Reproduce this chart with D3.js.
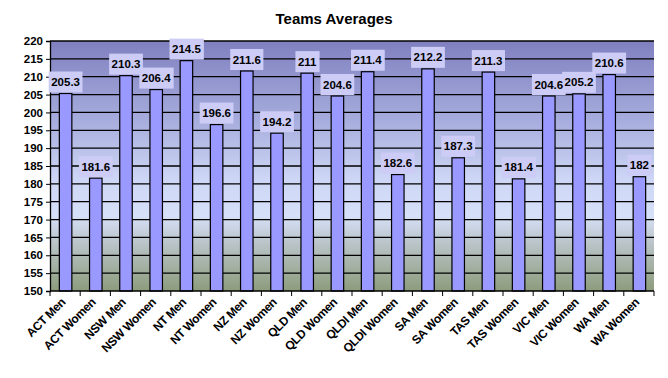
<!DOCTYPE html>
<html><head><meta charset="utf-8">
<script src="https://cdn.jsdelivr.net/npm/d3@7"></script>
<style>body{margin:0;background:#fff;}svg{display:block;font-family:"Liberation Sans",Arial,sans-serif;}</style>
</head><body><div id="chart"></div>
<script>
const categories = ["ACT Men","ACT Women","NSW Men","NSW Women","NT Men","NT Women","NZ Men","NZ Women","QLD Men","QLD Women","QLDI Men","QLDI Women","SA Men","SA Women","TAS Men","TAS Women","VIC Men","VIC Women","WA Men","WA Women"];
const values = [205.3,181.6,210.3,206.4,214.5,196.6,211.6,194.2,211,204.6,211.4,182.6,212.2,187.3,211.3,181.4,204.6,205.2,210.6,182];
const valueLabels = ["205.3","181.6","210.3","206.4","214.5","196.6","211.6","194.2","211","204.6","211.4","182.6","212.2","187.3","211.3","181.4","204.6","205.2","210.6","182"];
const yTicks = [150,155,160,165,170,175,180,185,190,195,200,205,210,215,220];
const title = "Teams Averages";

const W=668,H=378;
const m={left:50,right:14,top:41,bottom:87};
const pw=W-m.left-m.right, ph=H-m.top-m.bottom;
const svg=d3.select("#chart").append("svg").attr("width",W).attr("height",H);
const defs=svg.append("defs");
const g0=defs.append("linearGradient").attr("id","bg").attr("x1",0).attr("y1",0).attr("x2",0).attr("y2",1);
[[0,"#8080c0"],[0.3,"#a4aadb"],[0.55,"#cdd6f5"],[0.7,"#d6e0f8"],[0.8,"#bcc6cc"],[1,"#8c9c7c"]].forEach(s=>g0.append("stop").attr("offset",s[0]).attr("stop-color",s[1]));

const x=d3.scaleBand().domain(categories).range([m.left,m.left+pw]).paddingInner(0).paddingOuter(0);
const y=d3.scaleLinear().domain([150,220]).range([m.top+ph,m.top]);

svg.append("rect").attr("x",m.left).attr("y",m.top).attr("width",pw).attr("height",ph).attr("fill","url(#bg)");

svg.append("g").selectAll("line").data(yTicks.slice(1)).join("line")
  .attr("x1",m.left).attr("x2",m.left+pw).attr("y1",d=>y(d)).attr("y2",d=>y(d))
  .attr("stroke","#000").attr("stroke-width",1.3);

const bw=12.5;
svg.append("g").selectAll("rect").data(values).join("rect")
  .attr("x",(d,i)=>x(categories[i])+x.bandwidth()/2-bw/2+0.5)
  .attr("y",d=>y(d)).attr("width",bw).attr("height",d=>y(150)-y(d))
  .attr("fill","#9999ff").attr("stroke","#000").attr("stroke-width",1.2);

const ya=svg.append("g").attr("transform",`translate(${m.left},0)`)
  .call(d3.axisLeft(y).tickValues(yTicks).tickSize(4).tickPadding(3));
ya.select(".domain").attr("stroke","#000").attr("stroke-width",1.3);
ya.selectAll("text").attr("font-size",11.5).attr("font-weight","bold").attr("fill","#000").attr("font-family","Liberation Sans, Arial, sans-serif");

const xa=svg.append("g").attr("transform",`translate(0,${m.top+ph})`);
xa.append("line").attr("x1",m.left).attr("x2",m.left+pw).attr("stroke","#000").attr("stroke-width",1.3);
const bounds=categories.map(c=>x(c)).concat([m.left+pw]);
xa.selectAll("line.t").data(bounds).join("line").attr("class","t")
  .attr("x1",d=>d).attr("x2",d=>d).attr("y1",0).attr("y2",5).attr("stroke","#000");
xa.selectAll("text").data(categories).join("text")
  .attr("transform",d=>`translate(${x(d)+x.bandwidth()/2+1},${12}) rotate(-45)`)
  .attr("text-anchor","end").attr("font-size",12).attr("font-weight","bold").attr("fill","#000")
  .attr("letter-spacing","-0.4").text(d=>d);

const lg=svg.append("g");
values.forEach((v,i)=>{
  const cx=x(categories[i])+x.bandwidth()/2+0.5;
  const t=lg.append("text").attr("x",cx).attr("y",y(v)-7.5).attr("text-anchor","middle")
    .attr("font-size",11.5).attr("font-weight","bold").attr("fill","#000").text(valueLabels[i]);
  const bb=t.node().getBBox();
  lg.insert("rect","text").attr("x",bb.x-2.5).attr("y",y(v)-22).attr("width",bb.width+5).attr("height",21)
    .attr("fill","#ccccf6");
});

svg.append("text").attr("x",334).attr("y",24).attr("text-anchor","middle")
  .attr("font-size",15).attr("font-weight","bold").text(title);
</script></body></html>
